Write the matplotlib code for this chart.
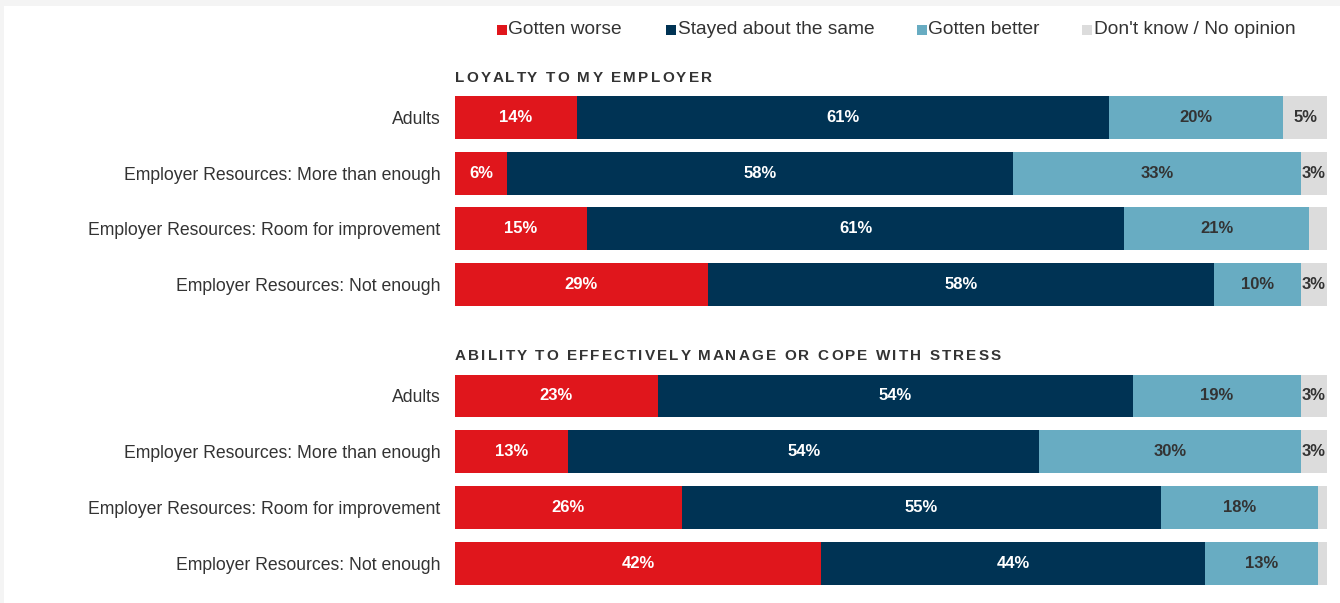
import matplotlib
matplotlib.use("Agg")
import matplotlib.pyplot as plt
from matplotlib.patches import Rectangle
from matplotlib.font_manager import FontProperties

plt.rcParams["font.family"] = ["Liberation Sans", "DejaVu Sans"]

# ---- data -------------------------------------------------------------
sections = ["LOYALTY TO MY EMPLOYER",
            "ABILITY TO EFFECTIVELY MANAGE OR COPE WITH STRESS"]
groups = ["Adults",
          "Employer Resources: More than enough",
          "Employer Resources: Room for improvement",
          "Employer Resources: Not enough"]
series = ["Gotten worse", "Stayed about the same", "Gotten better",
          "Don't know / No opinion"]

worse = [14, 6, 15, 29, 23, 13, 26, 42]
same = [61, 58, 61, 58, 54, 54, 55, 44]
better = [20, 33, 21, 10, 19, 30, 18, 13]
dont_know = [5, 3, 2, 3, 3, 3, 1, 1]
dont_know_shown = [True, True, False, True, True, True, False, False]

colors = ["#E0161C", "#003354", "#68ACC2", "#DCDCDC"]
label_colors = ["white", "white", "#333333", "#333333"]
TEXT = "#333333"

W, H = 1340, 603
fig = plt.figure(figsize=(W / 100, H / 100), dpi=100)
fig.patch.set_facecolor("#F4F4F4")
# white canvas inside a thin grey frame on the top and left
fig.add_artist(Rectangle((4 / W, 0), 1, 1 - 6 / H, transform=fig.transFigure,
                         facecolor="white", edgecolor="none", zorder=0))

# bar area
top_px, step_px = 117.5, 55.7
ax_top = top_px - step_px / 2
ax_bot = top_px + 8 * step_px + step_px / 2
ax = fig.add_axes([455 / W, 1 - ax_bot / H, (1327 - 455) / W, (ax_bot - ax_top) / H])
ax.set_facecolor("none")

positions = [0, 1, 2, 3, 5, 6, 7, 8]
values = [worse, same, better, dont_know]
labels = groups + groups

for r, y in enumerate(positions):
    row = [v[r] for v in values]
    total = sum(row)
    left = 0.0
    for k, v in enumerate(row):
        share = v / total * 100
        ax.barh(y, share, left=left, height=0.77, color=colors[k], edgecolor="none")
        if k < 3 or dont_know_shown[r]:
            ax.text(left + share / 2, y, f"{v}%", ha="center", va="center",
                    color=label_colors[k], fontsize=12, fontweight="bold")
        left += share

ax.set_xlim(0, 100)
ax.set_ylim(8.5, -0.5)
ax.set_yticks(positions)
ax.set_yticklabels(labels, fontsize=12.7, color=TEXT)
ax.tick_params(axis="y", length=0, pad=10.5)
ax.set_xticks([])
for s in ax.spines.values():
    s.set_visible(False)

renderer = fig.canvas.get_renderer()


def spaced_text(x_px, y_px, s, width_px, size):
    """Draw bold caps text with letter spacing so it spans width_px."""
    prop = FontProperties(family="Liberation Sans", weight="bold", size=size)
    def w(t):
        return renderer.get_text_width_height_descent(t, prop, ismath=False)[0] if t else 0.0
    natural = w(s)
    track = (width_px - natural) / (len(s) - 1)
    for i, ch in enumerate(s):
        x = x_px + w(s[:i]) + i * track
        fig.text(x / W, 1 - y_px / H, ch, fontproperties=prop, color=TEXT,
                 ha="left", va="center")


spaced_text(455, 78.5, sections[0], 257, 11)
spaced_text(455, 356.5, sections[1], 546, 11)

# legend
legend_sq = [497, 666, 917, 1082]
for k, name in enumerate(series):
    fig.add_artist(Rectangle((legend_sq[k] / W, 1 - 35 / H), 10 / W, 10 / H,
                             transform=fig.transFigure, facecolor=colors[k],
                             edgecolor="none"))
    fig.text((legend_sq[k] + 11.5) / W, 1 - 30 / H, name, fontsize=13.8,
             color=TEXT, ha="left", va="center")

fig.savefig("out.png", dpi=100, facecolor=fig.get_facecolor())
